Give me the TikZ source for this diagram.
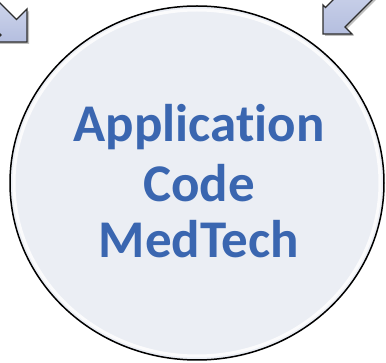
\documentclass[tikz,border=0pt]{standalone}
\usepackage{fontspec}
\setmainfont{Carlito}[Ligatures=NoCommon]

\definecolor{discfill}{HTML}{EBEEF4}
\definecolor{codeblue}{HTML}{3A66B0}
\definecolor{arrowlight}{HTML}{D6DCEF}
\definecolor{arrowdark}{HTML}{B4BEDF}
\definecolor{arrowedge}{HTML}{2E2E2E}

\tikzset{
  blockarrow/.style={top color=arrowlight, bottom color=arrowdark, draw=arrowedge,
    line width=1.4pt, line join=miter},
  arrowshadow/.style={fill=black!25, draw=none},
  disclabel/.style={text=codeblue, font=\bfseries\fontsize{53}{58}\selectfont,
    anchor=base, inner sep=0pt}
}

\begin{document}
\begin{tikzpicture}[x=1pt, y=-1pt]
   \useasboundingbox (0,0) rectangle (386,363);
   \clip (0,0) rectangle (386,363);
   % disc
   \filldraw[fill=discfill, draw=black, line width=1.5pt] (197,183) ellipse [x radius=187, y radius=177];
   \draw[white, line width=3pt, opacity=.8] (197,183) ellipse [x radius=183, y radius=173];
   % arrow top left
   \fill[arrowshadow] (-11.5,-8.5) -- (18.5,21.5) -- (29,11) -- (29,44) -- (-4,44) -- (3,37) -- (-27,7) -- cycle;
   \draw[blockarrow] (-13.5,-10.5) -- (16.5,19.5) -- (27,9) -- (27,42) -- (-6,42) -- (1,35) -- (-29,5) -- cycle;
   % arrow top right
   \fill[arrowshadow] (367.5,-30.5) -- (327.5,9.5) -- (325,7) -- (325,36) -- (354,36) -- (347,29) -- (387,-11) -- cycle;
   \draw[blockarrow] (365.5,-32.5) -- (325.5,7.5) -- (323,5) -- (323,34) -- (352,34) -- (345,27) -- (385,-13) -- cycle;
   \node[disclabel] (appl) at (199,142) {Application};
   \node[disclabel] (code) at (199,202) {Code};
   \node[disclabel] (medtech) at (199,258) {MedTech};
\end{tikzpicture}
\end{document}
